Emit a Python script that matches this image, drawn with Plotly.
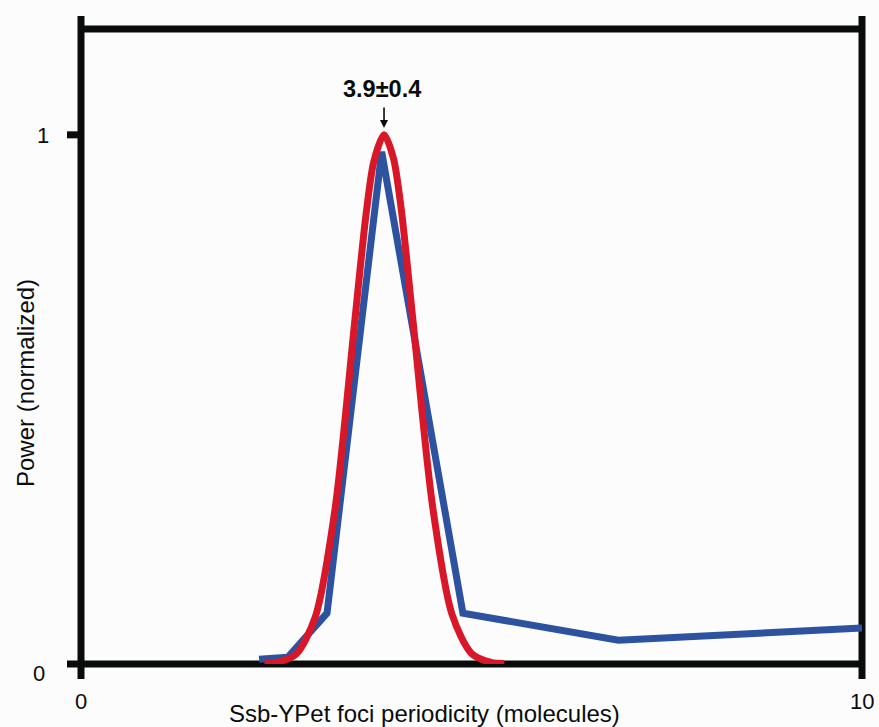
import plotly.graph_objects as go

# Data
blue_x = [2.28, 2.65, 3.15, 3.85, 4.89, 6.88, 10.0]
blue_y = [0.009, 0.013, 0.096, 0.968, 0.096, 0.045, 0.068]

red_x = [2.35, 2.5, 2.75, 3.0, 3.25, 3.5, 3.65, 3.75, 3.88, 4.0, 4.1, 4.25, 4.5, 4.75, 5.0, 5.25, 5.42]
red_y = [0.001, 0.003, 0.018, 0.089, 0.29, 0.64, 0.85, 0.95, 1.0, 0.956, 0.86, 0.65, 0.30, 0.094, 0.020, 0.003, 0.001]

x_ticks = [0, 10]
x_tick_labels = ["0", "10"]
y_ticks = [0, 1]
y_tick_labels = ["0", "1"]
XMAX = 10
YMAX = 1.2

peak_label = "3.9±0.4"
peak_x = 3.88

FONT = "Liberation Sans, Arial, sans-serif"
BLACK = "#0a0c0c"
BG = "#fcfcfc"

fig = go.Figure()
fig.add_trace(go.Scatter(x=blue_x, y=blue_y, mode="lines",
                         line=dict(color="#2c52a0", width=7), cliponaxis=False,
                         showlegend=False, hoverinfo="skip"))
fig.add_trace(go.Scatter(x=red_x, y=red_y, mode="lines",
                         line=dict(color="#d81828", width=7, shape="spline", smoothing=0.8),
                         cliponaxis=False, showlegend=False, hoverinfo="skip"))

W, H = 879, 727
L, R, T, B = 81, 17, 29, 63
pw = W - L - R
ph = H - T - B
ext_px = 14  # tick length
top_ext = 13


def px_x(p):
    return p / pw


def px_y(p):
    return p / ph


shapes = []
lw = 7
# left and right verticals (with tick extensions at x=0 and x=10)
for xv in x_ticks:
    xp = xv / XMAX
    shapes.append(dict(type="line", xref="paper", yref="paper", x0=xp, x1=xp,
                       y0=-px_y(15), y1=1 + px_y(top_ext),
                       line=dict(color=BLACK, width=lw), layer="below"))
# top line
shapes.append(dict(type="line", xref="paper", yref="paper", x0=0, x1=1, y0=1, y1=1,
                   line=dict(color=BLACK, width=lw), layer="below"))
# y ticks at 0 and 1 (0 extends into bottom axis)
for yv in y_ticks:
    yp = yv / YMAX
    shapes.append(dict(type="line", xref="paper", yref="paper", x0=-px_x(ext_px),
                       x1=1 if yv == 0 else 0, y0=yp, y1=yp,
                       line=dict(color=BLACK, width=lw), layer="below"))

annotations = []
tick_font = dict(family=FONT, size=22, color=BLACK)
title_font = dict(family=FONT, size=24, color=BLACK)
# y tick labels (label positions offset in pixels as in the reference)
y_label_dx = {0: L - 39, 1: L - 43}
y_label_dy = {0: -9, 1: -1}
for yv, lab in zip(y_ticks, y_tick_labels):
    annotations.append(dict(text=lab, xref="paper", yref="paper", x=-px_x(y_label_dx[yv]),
                            y=yv / YMAX + px_y(y_label_dy[yv]),
                            showarrow=False, font=tick_font, xanchor="center", yanchor="middle"))
# x tick labels
for xv, lab in zip(x_ticks, x_tick_labels):
    annotations.append(dict(text=lab, xref="x", yref="paper", x=xv, y=-px_y(37),
                            showarrow=False, font=tick_font, xanchor="center", yanchor="middle"))
# axis titles
annotations.append(dict(text="Ssb-YPet foci periodicity (molecules)", xref="paper", yref="paper",
                        x=px_x(424 - L), y=-px_y(49), showarrow=False, font=title_font,
                        xanchor="center", yanchor="middle"))
annotations.append(dict(text="Power (normalized)", xref="paper", yref="paper",
                        x=-px_x(L - 25), y=px_y(664 - 383), showarrow=False, font=title_font,
                        textangle=-90, xanchor="center", yanchor="middle"))
# peak label and arrow
annotations.append(dict(text="<b>" + peak_label + "</b>", xref="x", yref="y", x=3.85, y=1.087,
                        showarrow=False, font=dict(family=FONT, size=23.5, color=BLACK),
                        xanchor="center", yanchor="middle"))
annotations.append(dict(text="", xref="x", yref="y", x=peak_x, y=1.013, ax=0, ay=-22,
                        showarrow=True, arrowhead=2, arrowsize=1, arrowwidth=1.6,
                        arrowcolor=BLACK))

fig.update_layout(
    width=W, height=H,
    margin=dict(l=L, r=R, t=T, b=B, pad=0),
    paper_bgcolor=BG, plot_bgcolor=BG,
    xaxis=dict(range=[0, XMAX], visible=False, fixedrange=True),
    yaxis=dict(range=[0, YMAX], visible=False, fixedrange=True),
    shapes=shapes, annotations=annotations,
    showlegend=False,
)

fig.write_html("out.html", config={"displayModeBar": False},
               post_script="document.body.style.margin='0';document.body.style.overflow='hidden';")
